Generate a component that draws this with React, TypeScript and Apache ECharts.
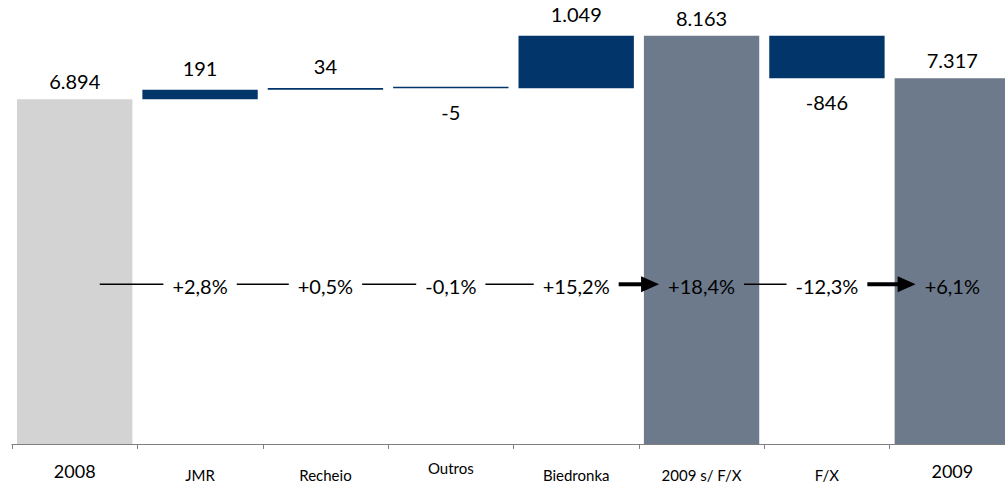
import React, { useEffect, useRef } from "react";
import * as echarts from "echarts";

const categories = ["2008", "JMR", "Recheio", "Outros", "Biedronka", "2009 s/ F/X", "F/X", "2009"];
const values = [6894, 191, 34, -5, 1049, 8163, -846, 7317];
const kinds = ["total", "delta", "delta", "delta", "delta", "total", "delta", "total"];
const pctChanges = [2.8, 0.5, -0.1, 15.2, 18.4, -12.3, 6.1];

const FONT = "Lato, 'Open Sans', sans-serif";
const fmtNum = (v: number) => {
  const s = Math.abs(v).toString().replace(/\B(?=(\d{3})+(?!\d))/g, ".");
  return (v < 0 ? "-" : "") + s;
};
const fmtPct = (p: number) => (p >= 0 ? "+" : "-") + Math.abs(p).toFixed(1).replace(".", ",") + "%";

let measureCtx: CanvasRenderingContext2D | null = null;
const textWidth = (t: string) => {
  if (!measureCtx) measureCtx = document.createElement("canvas").getContext("2d");
  if (!measureCtx) return t.length * 11;
  measureCtx.font = "20px Lato";
  return measureCtx.measureText(t).width;
};

export default function App() {
  const ref = useRef<HTMLDivElement>(null);
  useEffect(() => {
    if (!ref.current) return;
    const chart = echarts.init(ref.current, null, { renderer: "svg" });

    // waterfall computation
    let running = 0;
    const bases: number[] = [];
    const heights: number[] = [];
    values.forEach((v, i) => {
      if (kinds[i] === "total") {
        bases.push(0);
        heights.push(v);
        running = v;
      } else if (v >= 0) {
        bases.push(running);
        heights.push(v);
        running += v;
      } else {
        bases.push(running + v);
        heights.push(-v);
        running += v;
      }
    });

    let totalCount = 0;
    const visData = heights.map((h, i) => {
      const isTotal = kinds[i] === "total";
      let color = "#02356A";
      if (isTotal) {
        color = totalCount === 0 ? "#D3D3D3" : "#6D7A8C";
        totalCount++;
      }
      const neg = values[i] < 0;
      return {
        value: h,
        itemStyle: { color },
        label: {
          position: neg ? "bottom" : "top",
          distance: neg ? 14 : isTotal ? 8 : 12,
        },
      };
    });

    const GAP = 9;
    chart.setOption({
      animation: false,
      grid: { left: 12, top: 4, height: 443, width: 1003 },
      xAxis: {
        type: "category",
        data: categories,
        boundaryGap: true,
        axisLine: { lineStyle: { color: "#7f7f7f", width: 1 } },
        axisTick: { show: true, interval: 0, length: 5, lineStyle: { color: "#7f7f7f" } },
        axisLabel: {
          interval: 0,
          margin: 16,
          formatter: (v: string) => {
            if (/^\d{4}$/.test(v)) return `{year|${v}}`;
            if (v === "Outros") return `{up|${v}}`;
            return `{name|${v}}`;
          },
          rich: {
            year: { fontSize: 18, lineHeight: 22, color: "#000", fontFamily: FONT },
            name: { fontSize: 15, lineHeight: 29, color: "#000", fontFamily: FONT },
            up: { fontSize: 15, lineHeight: 16, color: "#000", fontFamily: FONT },
          },
        },
      },
      yAxis: { type: "value", min: 0, max: 8800, show: false, splitLine: { show: false } },
      series: [
        {
          type: "bar",
          stack: "w",
          data: bases,
          barWidth: "92%",
          itemStyle: { color: "transparent" },
          silent: true,
        },
        {
          type: "bar",
          stack: "w",
          data: visData,
          barWidth: "92%",
          barMinHeight: 1.5,
          label: {
            show: true,
            fontSize: 20,
            fontFamily: FONT,
            color: "#000",
            formatter: (p: any) => fmtNum(values[p.dataIndex]),
          },
        },
        {
          type: "custom",
          coordinateSystem: "cartesian2d",
          encode: { x: 0, y: 1 },
          data: pctChanges.map((p, i) => [i + 1, p]),
          z: 10,
          renderItem: (params: any, api: any) => {
            const idx = api.value(0);
            const cs = params.coordSys;
            const y = cs.y + cs.height * 0.637;
            const cx = api.coord([idx, 0])[0];
            const prevCx = api.coord([idx - 1, 0])[0];
            const bw = api.size([1, 0])[0];
            const txt = fmtPct(pctChanges[idx - 1]);
            const half = textWidth(txt) / 2;
            const start =
              idx - 1 === 0 ? prevCx + bw * 0.2 : prevCx + textWidth(fmtPct(pctChanges[idx - 2])) / 2 + GAP;
            const end = cx - half - GAP;
            const isArrow = kinds[idx] === "total";
            const children: any[] = [
              {
                type: "text",
                x: cx,
                y: y + 2,
                style: {
                  text: txt,
                  fontSize: 20,
                  fontFamily: FONT,
                  fill: "#000",
                  align: "center",
                  verticalAlign: "middle",
                },
              },
              {
                type: "line",
                shape: { x1: start, y1: y, x2: isArrow ? end - 14 : end, y2: y },
                style: { stroke: "#000", lineWidth: isArrow ? 4 : 1.5 },
              },
            ];
            if (isArrow) {
              children.push({
                type: "polygon",
                shape: { points: [[end - 18, y - 8], [end, y], [end - 18, y + 8]] },
                style: { fill: "#000" },
              });
            }
            return { type: "group", children };
          },
        },
      ],
    });
    return () => chart.dispose();
  }, []);
  return (
    <div
      style={{
        position: "absolute",
        left: 0,
        top: 0,
        width: 1005,
        height: 482,
        overflow: "hidden",
        background: "#fff",
      }}
    >
      <div ref={ref} style={{ width: 1016, height: 482 }} />
    </div>
  );
}
